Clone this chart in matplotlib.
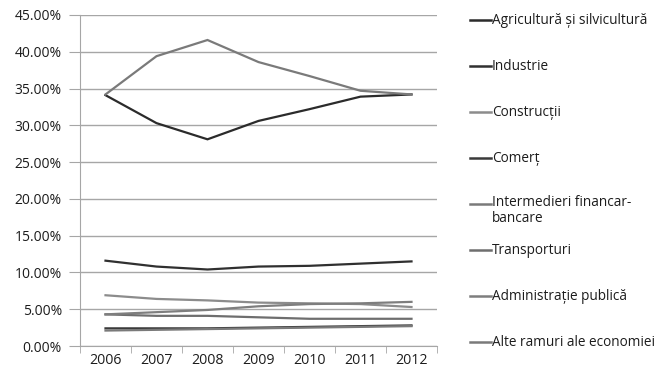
import matplotlib
matplotlib.use("Agg")
import matplotlib.pyplot as plt
from matplotlib.lines import Line2D
from matplotlib.ticker import FixedLocator, PercentFormatter

plt.rcParams["font.family"] = ["Open Sans", "DejaVu Sans"]

years = ["2006", "2007", "2008", "2009", "2010", "2011", "2012"]

sectors = [
    "Agricultură și silvicultură",
    "Industrie",
    "Construcții",
    "Comerț",
    "Intermedieri financar-\nbancare",
    "Transporturi",
    "Administrație publică",
    "Alte ramuri ale economiei",
]

# shares in %, one list per sector
agricultura = [34.1, 30.3, 28.1, 30.6, 32.2, 33.9, 34.2]
industrie = [11.6, 10.8, 10.4, 10.8, 10.9, 11.2, 11.5]
constructii = [6.9, 6.4, 6.2, 5.9, 5.8, 5.7, 5.3]
comert = [2.4, 2.4, 2.4, 2.5, 2.6, 2.7, 2.8]
intermedieri = [2.1, 2.2, 2.3, 2.4, 2.5, 2.6, 2.7]
transporturi = [4.3, 4.1, 4.1, 3.9, 3.7, 3.7, 3.7]
administratie = [4.3, 4.6, 4.9, 5.4, 5.7, 5.8, 6.0]
alte_ramuri = [34.2, 39.4, 41.6, 38.6, 36.7, 34.7, 34.2]

series = [agricultura, industrie, constructii, comert,
          intermedieri, transporturi, administratie, alte_ramuri]
colors = ["#2b2b2b", "#303030", "#8c8c8c", "#3a3a3a",
          "#7a7a7a", "#6e6e6e", "#7e7e7e", "#7a7a7a"]

fig = plt.figure(figsize=(6.57, 3.74), dpi=100)
ax = fig.add_axes([80 / 657, 1 - 346 / 374, 357 / 657, 331 / 374])

x = range(len(years))
for vals, c in zip(series, colors):
    ax.plot(x, [v / 100 for v in vals], color=c, lw=1.6, solid_joinstyle="miter")

ax.set_xlim(-0.5, len(years) - 0.5)
ax.set_ylim(0, 0.45)
ax.yaxis.set_major_locator(FixedLocator([i * 0.05 for i in range(10)]))
ax.yaxis.set_major_formatter(PercentFormatter(1.0, decimals=2))
ax.grid(axis="y", color="#a6a6a6", lw=1)
ax.set_axisbelow(True)

ax.set_xticks(list(x))
ax.set_xticklabels(years)
ax.xaxis.set_minor_locator(FixedLocator([i - 0.5 for i in range(len(years) + 1)]))
ax.tick_params(axis="x", which="major", length=0, pad=5, labelsize=10.2, labelcolor="#1c1c1c")
ax.tick_params(axis="x", which="minor", length=5, color="#a6a6a6")
ax.tick_params(axis="y", length=8, color="#a6a6a6", labelsize=10, labelcolor="#1c1c1c", pad=5)

for side in ["top", "right"]:
    ax.spines[side].set_visible(False)
for side in ["left", "bottom"]:
    ax.spines[side].set_color("#a6a6a6")

# legend drawn as separate entries on the right
for i, (label, c) in enumerate(zip(sectors, colors)):
    y = 1 - (20 + 46 * i) / 374
    fig.add_artist(Line2D([470 / 657, 491 / 657], [y, y], color=c, lw=1.8,
                          transform=fig.transFigure))
    two_lines = "\n" in label
    fig.text(492 / 657, y + (0.024 if two_lines else 0), label, fontsize=9.8,
             color="#1c1c1c", va="top" if two_lines else "center",
             linespacing=1.05)

fig.savefig("out.png", dpi=100, facecolor="white")
